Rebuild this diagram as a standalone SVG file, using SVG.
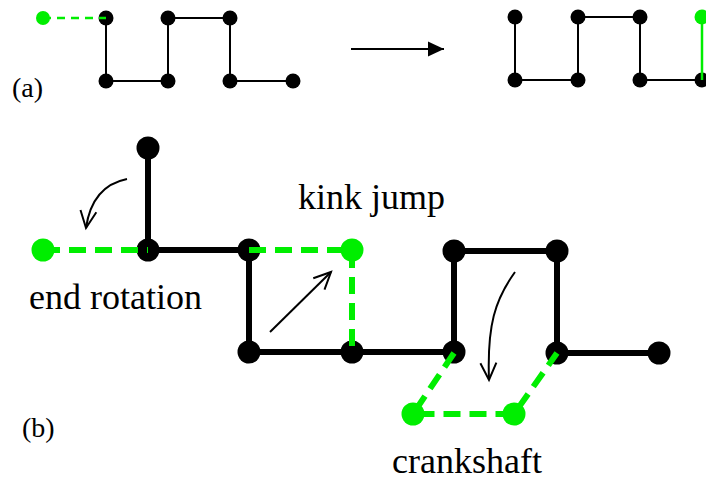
<svg xmlns="http://www.w3.org/2000/svg" width="706" height="482" viewBox="0 0 706 482">
<style>
.lbl{font-family:"Liberation Serif","Times New Roman",serif;fill:#000}
.big{font-size:36px}
.tag{font-size:28px}
.ba{stroke:#000;stroke-width:2;fill:none}
.ga{stroke:#00ee00;stroke-width:2.5;fill:none;stroke-dasharray:8 6}
.bb{stroke:#000;stroke-width:6;fill:none;stroke-linejoin:miter}
.gb{stroke:#00ee00;stroke-width:6;fill:none;stroke-dasharray:17 9}
.arr{stroke:#000;stroke-width:2;fill:none}
.nb{fill:#000}
.ng{fill:#00ee00}
</style>
<defs>
<marker id="vh" markerUnits="userSpaceOnUse" markerWidth="24" markerHeight="24" viewBox="-20 -12 24 24" refX="0" refY="0" orient="auto">
<path d="M-17,-8 L0,0 L-17,8" fill="none" stroke="#000" stroke-width="2"/>
</marker>
<marker id="th" markerUnits="userSpaceOnUse" markerWidth="20" markerHeight="20" viewBox="-18 -10 20 20" refX="0" refY="0" orient="auto">
<path d="M-16,-7.5 L0,0 L-16,7.5 Z" fill="#000"/>
</marker>
</defs>

<g id="connectors">
<!-- (a) left chain -->
<polyline class="ba" points="106,18 106,81 168,81 168,18 230,18 230,81 293,81"/>
<!-- (a) right chain -->
<polyline class="ba" points="515,17 515,80 578,80 578,17 640,17 640,80 702,80"/>
<!-- (a) transition arrow -->
<line class="ba" x1="351" y1="49" x2="444" y2="49" marker-end="url(#th)"/>
<!-- (b) chain -->
<polyline class="bb" points="148,148 148,250 249,250 249,352 352,352 454,352 454,251 557,251 557,353 659,353"/>
</g>

<g id="nodes-a">
<g id="a-n0"><circle class="ng" cx="43" cy="18" r="7"/></g>
<g id="a-n1"><circle class="nb" cx="106" cy="18" r="7.5"/></g>
<g id="a-n2"><circle class="nb" cx="106" cy="81" r="7.5"/></g>
<g id="a-n3"><circle class="nb" cx="168" cy="81" r="7.5"/></g>
<g id="a-n4"><circle class="nb" cx="168" cy="18" r="7.5"/></g>
<g id="a-n5"><circle class="nb" cx="230" cy="18" r="7.5"/></g>
<g id="a-n6"><circle class="nb" cx="230" cy="81" r="7.5"/></g>
<g id="a-n7"><circle class="nb" cx="293" cy="81" r="7.5"/></g>
<g id="a-m1"><circle class="nb" cx="515" cy="17" r="7.5"/></g>
<g id="a-m2"><circle class="nb" cx="515" cy="80" r="7.5"/></g>
<g id="a-m3"><circle class="nb" cx="578" cy="80" r="7.5"/></g>
<g id="a-m4"><circle class="nb" cx="578" cy="17" r="7.5"/></g>
<g id="a-m5"><circle class="nb" cx="640" cy="17" r="7.5"/></g>
<g id="a-m6"><circle class="nb" cx="640" cy="80" r="7.5"/></g>
<g id="a-m7"><circle class="nb" cx="702" cy="80" r="7.5"/></g>
<g id="a-m8"><circle class="ng" cx="702" cy="17" r="7.5"/></g>
</g>

<g id="moves-a">
<line class="ga" x1="43" y1="18" x2="106" y2="18"/>
<line x1="702" y1="17" x2="702" y2="80" stroke="#00ee00" stroke-width="2.5"/>
</g>

<g id="nodes-b">
<g id="b-n1"><circle class="nb" cx="148" cy="148" r="11.5"/></g>
<g id="b-n2"><circle class="nb" cx="148" cy="250" r="11.5"/></g>
<g id="b-n3"><circle class="nb" cx="249" cy="250" r="11.5"/></g>
<g id="b-n4"><circle class="nb" cx="249" cy="352" r="11.5"/></g>
<g id="b-n5"><circle class="nb" cx="352" cy="352" r="11.5"/></g>
<g id="b-n6"><circle class="nb" cx="454" cy="352" r="11.5"/></g>
<g id="b-n7"><circle class="nb" cx="454" cy="251" r="11.5"/></g>
<g id="b-n8"><circle class="nb" cx="557" cy="251" r="11.5"/></g>
<g id="b-n9"><circle class="nb" cx="557" cy="353" r="11.5"/></g>
<g id="b-n10"><circle class="nb" cx="659" cy="353" r="11.5"/></g>
</g>

<g id="moves-b">
<line class="gb" x1="43" y1="250" x2="148" y2="250"/>
<polyline class="gb" points="249,250 352,250 352,352"/>
<polyline class="gb" points="454,353 413,414 514,414 557,353"/>
<g id="b-g1"><circle class="ng" cx="43" cy="250" r="11.5"/></g>
<g id="b-g2"><circle class="ng" cx="352" cy="250" r="11.5"/></g>
<g id="b-g3"><circle class="ng" cx="413" cy="414" r="11.5"/></g>
<g id="b-g4"><circle class="ng" cx="514" cy="414" r="11.5"/></g>
</g>

<g id="arrows-b">
<path class="arr" d="M127,179 Q92,186 86,228" marker-end="url(#vh)"/>
<line class="arr" x1="270" y1="332" x2="331" y2="272" marker-end="url(#vh)"/>
<path class="arr" d="M515,272 C495,300 487,325 489,380" marker-end="url(#vh)"/>
</g>

<g id="labels">
<text class="lbl tag" x="12" y="97">(a)</text>
<text class="lbl tag" x="22" y="437">(b)</text>
<text class="lbl big" x="298" y="209">kink jump</text>
<text class="lbl big" x="29" y="309">end rotation</text>
<text class="lbl big" x="392" y="473">crankshaft</text>
</g>
</svg>
